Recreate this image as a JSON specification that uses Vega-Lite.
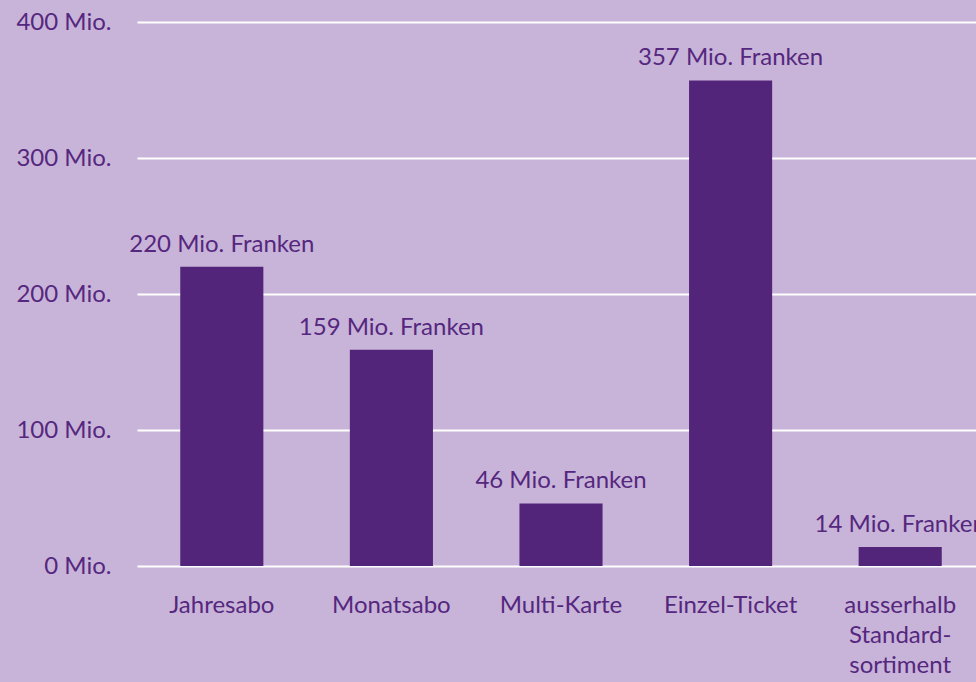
{
  "$schema": "https://vega.github.io/schema/vega-lite/v6.json",
  "autosize": {"type": "none"},
  "padding": {"left": 137, "top": 22, "right": 0, "bottom": 116},
  "width": 848,
  "height": 544,
  "background": "#c8b4d8",
  "config": {
    "view": {"stroke": null},
    "font": "Lato",
    "axis": {"labelFont": "Lato", "labelColor": "#55277f", "labelFontSize": 24}
  },
  "data": {
    "values": [
      {"kategorie": "Jahresabo", "wert": 220, "label": "220 Mio. Franken"},
      {"kategorie": "Monatsabo", "wert": 159, "label": "159 Mio. Franken"},
      {"kategorie": "Multi-Karte", "wert": 46, "label": "46 Mio. Franken"},
      {"kategorie": "Einzel-Ticket", "wert": 357, "label": "357 Mio. Franken"},
      {"kategorie": "ausserhalb Standard-sortiment", "wert": 14, "label": "14 Mio. Franken"}
    ]
  },
  "encoding": {
    "x": {
      "field": "kategorie",
      "type": "nominal",
      "sort": null,
      "scale": {"paddingInner": 0.51, "paddingOuter": 0.255},
      "axis": {
        "title": null,
        "domain": false,
        "ticks": false,
        "grid": false,
        "labelAngle": 0,
        "labelPadding": 27,
        "labelLineHeight": 30,
        "labelExpr": "datum.value == 'ausserhalb Standard-sortiment' ? ['ausserhalb', 'Standard-', 'sortiment'] : datum.label"
      }
    },
    "y": {
      "field": "wert",
      "type": "quantitative",
      "scale": {"domain": [0, 400]},
      "axis": {
        "title": null,
        "domain": false,
        "ticks": false,
        "values": [0, 100, 200, 300, 400],
        "labelExpr": "datum.value + ' Mio.'",
        "labelPadding": 26,
        "gridColor": "#ffffff",
        "gridWidth": 2,
        "gridOpacity": 1
      }
    }
  },
  "layer": [
    {"mark": {"type": "bar", "color": "#52247a"}},
    {
      "mark": {"type": "text", "baseline": "alphabetic", "dy": -15, "fontSize": 24, "color": "#55277f", "font": "Lato"},
      "encoding": {"text": {"field": "label"}}
    }
  ]
}
